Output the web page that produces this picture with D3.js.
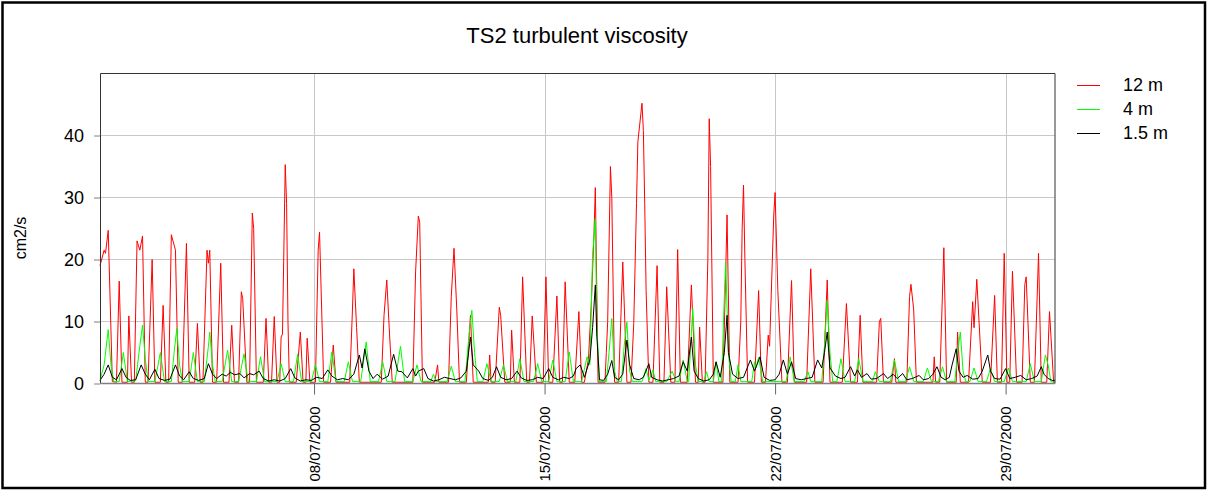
<!DOCTYPE html>
<html>
<head>
<meta charset="utf-8">
<script src="https://cdn.jsdelivr.net/npm/d3@7"></script>
<style>
  html, body { margin: 0; padding: 0; background: #fff; }
  svg { display: block; font-family: "Liberation Sans", Arial, sans-serif; }
</style>
</head>
<body>
<div id="chart"></div>
<script>
// hours since 01/07/2000 00:00, value in cm2/s
const red12= [
  [12,19],[15,21.5],[16,21],[18,24.7],[21,0.3],
  [24,0.2],[26,16.5],[28,0.2],[32,0.2],[33,10.9],[35,0.2],
  [37,0.2],[39,23],[41,21.5],[43,23.8],[45,0.2],[47,0.2],[50,20],[52,0.2],
  [56,0.2],[58,12.6],[60,0.2],[62,0.2],[64,24],[67,21.5],[69,0.2],
  [72,0.2],[75,22.6],[77,0.2],[81,0.2],[83,9.7],[85,0.2],
  [87,0.2],[90,21.5],[91,19.4],[92,21.5],[94,0.2],[97,0.2],[100,19.4],[102,0.2],
  [106,0.2],[108,9.4],[110,0.2],[113,0.2],[115,14.8],[116,13.7],[119,0.2],
  [121,0.2],[123,27.5],[124,25],[126,0.2],[131,0.2],[133,10.5],[135,0.2],
  [137,0.2],[139,10.8],[141,0.2],[143,0.2],[144,7.5],[145,8],[147,35.3],[148,29],[149,10],[150,0.2],
  [155,0.2],[158,8.3],[160,0.2],[162,0.2],[163,7.3],[165,0.2],
  [169,0.2],[171,21.5],[172,24.4],[175,0.2],[180,0.2],[182,6.2],[184,0.2],
  [194,0.2],[196,12],[197,18.5],[199,9],[201,0.2],
  [217,0.2],[219,11],[221,16.7],[223,8],[225,0.2],
  [240,0.2],[242,18],[244,27],[245,26],[247,0.2],[256,0.2],[258,3],[259,0.2],
  [266,0.2],[268,14],[270,21.8],[272,12],[274,0.2],[279,0.2],[282,11],[284,0.2],
  [295,0.2],[296,4.6],[297,0.2],[300,0.2],[303,12.3],[304,11],[307,0.2],
  [311,0.2],[312,8.6],[314,0.2],[318,0.2],[320,17.2],[323,0.2],
  [325,0.2],[327,10.9],[330,0.2],[335,0.2],[337,17.2],[339,0.2],
  [342,0.2],[345,14.1],[347,0.2],[349,0.2],[351,16.4],[354,0.2],
  [358,0.2],[361,11.6],[363,0.2],[365,0.2],[368,4],[370,12.6],[372,24],[373,31.6],[375,0.2],
  [380,0.2],[381,5],[382,10],[384,35],[385,30],[387,0.2],[390,0.2],[393,19.6],[396,0.2],
  [399,0.2],[401,9.7],[403,29],[404,39],[407,45.2],[408,40.8],[409,29],[410,15],[412,0.2],
  [415,0.2],[418,19],[420,0.2],[423,0.2],[425,15.6],[428,0.2],
  [431,0.2],[433,21.6],[435,0.2],[440,0.2],[443,15.9],[446,0.2],
  [448,0.2],[449,9.1],[451,0.2],[453,0.2],[455,20],[456,42.7],[457,35],[459,0.2],
  [466,0.2],[468,18],[469,27.2],[471,0.2],
  [477,0.2],[479,10],[480,25],[481,32],[482,20],[484,0.2],[489,0.2],[492,15],[494,0.2],
  [497,0.2],[499,7.8],[500,6],[503,27],[504,30.8],[506,15],[509,0.2],
  [513,0.2],[516,16.6],[518,0.2],[527,0.2],[530,18.5],[533,0.2],
  [539,0.2],[542,16.7],[544,0.2],[553,0.2],[556,12.9],[559,0.2],
  [564,0.2],[566,11],[568,0.2],[578,0.2],[580,10],[581,10.5],[583,0.2],
  [589,0.2],[591,4],[592,0.2],[600,0.2],[602,14],[603,16],[605,12],[607,0.2],
  [619,0.2],[620,4.3],[621,0.2],[624,0.2],[627,21.9],[629,0.2],
  [636,0.2],[637,8.3],[639,0.2],[645,0.2],[648,13.2],[649,9],[651,16.8],[655,0.2],
  [661,0.2],[664,14.2],[666,0.2],[669,0.2],[671,21],[673,0.2],
  [675,0.2],[677,18.1],[680,0.2],[684,0.2],[686,16],[687,17.2],[690,0.2],
  [693,0.2],[696,21],[698,0.2],[702,0.2],[704,11.6],[707,0.2],[708,0.2]
];

const green4= [
  [12,0.5],[15,3],[18,8.7],[20,3],[22,0.3],[26,0.3],[29,5],[32,0.3],
  [38,0.5],[41,6],[43,9.4],[45,4],[47,0.3],[52,0.3],[56,5],[59,0.3],
  [64,0.3],[66,5],[68,8.9],[70,3],[72,0.3],[77,0.3],[80,5],[83,0.3],
  [88,0.3],[91,6],[92,8.3],[94,3],[96,0.3],[101,0.3],[105,5.4],[108,0.3],
  [113,0.3],[117,4.8],[120,0.3],[126,0.3],[129,4.3],[132,0.3],
  [141,0.3],[144,3.2],[147,0.3],[153,0.3],[156,4.7],[159,0.3],
  [166,0.3],[169,3],[172,0.3],[178,0.3],[181,5.1],[184,0.3],
  [190,0.3],[193,3.5],[196,0.3],[202,0.3],[206,6.7],[209,0.3],
  [215,0.3],[218,3.5],[221,0.3],[227,0.3],[231,6],[234,0.3],
  [240,0.3],[243,3],[246,0.3],[253,0.3],[255,1.5],[257,0.3],
  [265,0.3],[268,2.8],[271,0.3],[278,0.3],[281,8],[283,11.8],[285,5],[287,0.3],
  [291,0.3],[294,3.2],[297,0.3],[303,0.3],[306,3],[309,0.3],
  [315,0.3],[318,4],[321,0.3],[328,0.3],[331,3.2],[334,0.3],
  [339,0.3],[342,3.8],[345,0.3],[351,0.3],[354,5.1],[357,0.3],
  [363,0.3],[367,4.3],[369,3],[371,20.7],[373,26.6],[374,10],[376,0.3],
  [381,0.3],[383,5],[385,10.5],[387,2],[389,0.3],[392,0.3],[394,6],[396,9.9],[398,2],[400,0.3],
  [407,0.3],[410,2.4],[412,0.5],[415,2.2],[417,0.3],[425,0.3],[429,2],[432,0.3],
  [434,0.3],[437,3.8],[440,0.3],[441,0.3],[443,8],[444,12.1],[446,3],[448,0.3],
  [452,0.3],[454,1.9],[456,0.3],[459,0.3],[461,3.5],[463,0.3],
  [465,0.3],[467,14],[468,19.6],[470,5],[472,0.3],[475,0.3],[477,3],[479,0.3],
  [487,0.3],[489,3.5],[490,2.5],[492,4.2],[495,0.3],[512,0.3],[515,4.3],[518,0.3],
  [525,0.3],[528,1.9],[530,0.3],[538,0.3],[540,6],[542,13.4],[544,5],[546,0.3],
  [549,0.3],[552,4],[555,0.3],[562,0.3],[565,4],[568,0.3],
  [575,0.3],[577,1.9],[580,0.3],[588,0.3],[591,3.8],[594,0.3],
  [599,0.3],[602,2.7],[605,0.3],[612,0.3],[615,2.5],[618,0.3],
  [623,0.3],[626,2.7],[629,0.3],[635,0.3],[637,5],[639,8.3],[641,2],[643,0.3],
  [646,0.3],[649,2.5],[652,0.3],[658,0.3],[661,2.4],[664,0.3],
  [671,0.3],[674,2.5],[677,0.3],[687,0.3],[690,3.2],[693,0.3],
  [698,0.3],[701,4.6],[703,3],[705,0.3],[708,0.2]
];

const black15= [
  [12,0.5],[15,1.5],[18,3],[21,1],[24,0.6],[28,2.4],[31,1],[34,0.5],[38,0.6],[42,3],
  [45,1.5],[48,0.6],[52,2.3],[55,0.8],[59,0.5],[63,0.7],[67,3],[70,1.2],[73,0.6],[77,1.9],
  [80,0.8],[84,0.5],[88,0.8],[91,3.2],[94,1.5],[97,0.8],[101,1.5],[104,1.2],[107,1.8],[110,1.4],
  [114,1.6],[117,0.9],[121,1.6],[124,1.4],[128,2],[131,0.8],[135,0.4],[139,0.6],[143,0.4],[147,0.8],
  [151,2.4],[154,0.9],[158,0.4],[162,0.6],[166,0.5],[170,1],[174,0.8],[178,2.2],[181,1.2],[185,0.6],
  [189,0.8],[193,0.6],[197,1.5],[201,4.6],[203,2.5],[205,5.6],[208,2],[211,0.8],[214,1.5],[218,0.7],
  [222,1.2],[226,4.7],[229,2],[232,1.9],[236,0.9],[240,2.4],[242,1.2],[244,2],[248,2.4],[251,0.8],
  [255,0.4],[259,0.6],[263,1],[267,0.8],[271,0.6],[275,0.9],[279,2],[282,7.5],[284,3],[288,2],
  [291,0.8],[295,0.5],[298,1],[301,2.7],[304,1],[308,0.6],[312,0.8],[316,2],[319,0.9],[323,0.5],
  [327,0.6],[331,1],[335,0.8],[339,2.4],[342,1],[346,0.6],[350,1],[354,0.8],[357,1.2],[359,2.4],
  [362,3],[365,1],[369,3.8],[371,9],[373,15.9],[374,8],[376,0.6],[379,0.5],[382,1.5],[385,3.7],
  [387,1],[390,0.6],[393,1.5],[396,7],[398,3],[401,0.8],[405,0.6],[408,1],[412,3.2],[414,1],
  [418,0.6],[422,0.4],[426,0.6],[430,0.8],[434,1.2],[437,3.5],[440,2],[443,7.5],[445,2],[448,0.8],
  [452,0.4],[456,0.6],[459,1.5],[461,3.5],[464,1],[467,5],[469,11],[470,5],[473,1.5],[477,0.8],
  [481,1],[486,3.8],[489,2],[493,4.3],[496,1],[500,0.5],[504,0.6],[507,1.5],[510,3.8],[513,1.5],
  [516,3.5],[519,0.8],[523,0.6],[527,0.8],[531,1],[535,3.8],[538,2.5],[540,5],[542,8.3],[544,2.5],
  [548,1.2],[552,0.8],[555,1],[559,2.7],[562,1.2],[564,2.2],[567,1],[571,1.6],[574,0.7],[578,0.8],
  [583,1.6],[586,0.8],[590,1.5],[593,0.8],[597,1.6],[600,0.6],[604,0.8],[609,1.3],[612,0.6],[616,0.8],
  [619,1.5],[622,2.7],[625,1],[628,0.6],[631,1],[633,3],[636,5.6],[638,2],[641,1],[644,1.3],
  [648,0.7],[652,0.8],[655,2],[659,4.6],[661,2],[664,0.8],[668,0.7],[672,2.4],[675,0.8],[679,1],
  [683,1.3],[687,0.6],[691,0.8],[695,1.2],[698,2.7],[700,1.5],[703,0.8],[706,0.5],[708,0.5]
];

const seriesNames= ['12 m', '4 m', '1.5 m'];
const seriesColors= ['#ff0000', '#00ff00', '#000000'];
const yTicks= [0, 10, 20, 30, 40];
const xTickLabels= ['08/07/2000', '15/07/2000', '22/07/2000', '29/07/2000'];
const title= 'TS2 turbulent viscosity';
const yLabel= 'cm2/s';

const W= 1208, H= 491;
const plot= { l: 100, r: 1055, t: 73.5, b: 383.5 };

const t0= Date.UTC(2000, 6, 1);
const toDate= h => new Date(t0+h*3600e3);
const parseDay= d3.utcParse('%d/%m/%Y');

const svg= d3.select('#chart').append('svg')
  .attr('width', W).attr('height', H);

svg.append('rect')
  .attr('x', 2.5).attr('y', 2.5)
  .attr('width', 1202.5).attr('height', 485.5)
  .attr('fill', '#fff')
  .attr('stroke', '#000').attr('stroke-width', 2.5);

const x= d3.scaleUtc()
  .domain([toDate(12), toDate(708)])
  .range([plot.l, plot.r]);
const y= d3.scaleLinear()
  .domain([0, 50])
  .range([plot.b, plot.t]);

const xTicks= xTickLabels.map(parseDay);

// grid
const grid= svg.append('g').attr('stroke', '#c8c8c8').attr('stroke-width', 1);
grid.selectAll('.hg').data(yTicks.filter(v => v>0)).join('line')
  .attr('x1', plot.l).attr('x2', plot.r)
  .attr('y1', d => y(d)).attr('y2', d => y(d));
grid.selectAll('.vg').data(xTicks).join('line')
  .attr('x1', d => Math.round(x(d))+0.5).attr('x2', d => Math.round(x(d))+0.5)
  .attr('y1', plot.t).attr('y2', plot.b);

// series
const line= d3.line()
  .x(d => x(toDate(d[0])))
  .y(d => y(d[1]));

[red12, green4, black15].forEach((s, i) => {
  svg.append('path')
    .datum(s)
    .attr('fill', 'none')
    .attr('stroke', seriesColors[i])
    .attr('stroke-width', 1)
    .attr('stroke-linejoin', 'round')
    .attr('d', line);
});

// frame
svg.append('path')
  .attr('d', `M${plot.l+0.5},${plot.b}V${plot.t}H${plot.r}V${plot.b}`)
  .attr('fill', 'none').attr('stroke', '#333').attr('stroke-width', 1);

// y axis
const yAx= svg.append('g')
  .attr('transform', `translate(${plot.l},0)`)
  .call(d3.axisLeft(y).tickValues(yTicks).tickSize(6).tickPadding(10));
yAx.select('.domain').remove();
yAx.selectAll('.tick line').attr('stroke', '#808080');
yAx.selectAll('.tick text')
  .attr('font-family', '"Liberation Sans", Arial, sans-serif')
  .attr('font-size', 18).attr('fill', '#000');

// x axis
const xAx= svg.append('g')
  .attr('transform', `translate(0,${plot.b})`)
  .call(d3.axisBottom(x).tickValues(xTicks).tickSize(11).tickFormat(d3.utcFormat('%d/%m/%Y')));
xAx.select('.domain')
  .attr('stroke', '#808080').attr('stroke-width', 1.5)
  .attr('d', `M${plot.l},0H${plot.r}`);
xAx.selectAll('.tick line').attr('stroke', '#666');
xAx.selectAll('.tick text')
  .attr('font-family', '"Liberation Sans", Arial, sans-serif')
  .attr('font-size', 15).attr('fill', '#000')
  .attr('transform', 'rotate(-90)')
  .attr('x', -23).attr('y', 0).attr('dy', '0.35em')
  .attr('text-anchor', 'end');

// title and y label
svg.append('text')
  .attr('x', 577).attr('y', 43)
  .attr('text-anchor', 'middle')
  .attr('font-size', 22)
  .text(title);

svg.append('text')
  .attr('transform', 'translate(26,238) rotate(-90)')
  .attr('text-anchor', 'middle')
  .attr('font-size', 16)
  .text(yLabel);

// legend
const lg= svg.append('g').attr('transform', 'translate(1077,85)');
seriesNames.forEach((n, i) => {
  const row= lg.append('g').attr('transform', `translate(0,${i*24})`);
  row.append('line')
    .attr('x1', 0).attr('x2', 23).attr('y1', 0.5).attr('y2', 0.5)
    .attr('stroke', seriesColors[i]).attr('stroke-width', 1);
  row.append('text')
    .attr('x', 46).attr('y', 6)
    .attr('font-size', 18)
    .text(n);
});
</script>
</body>
</html>
